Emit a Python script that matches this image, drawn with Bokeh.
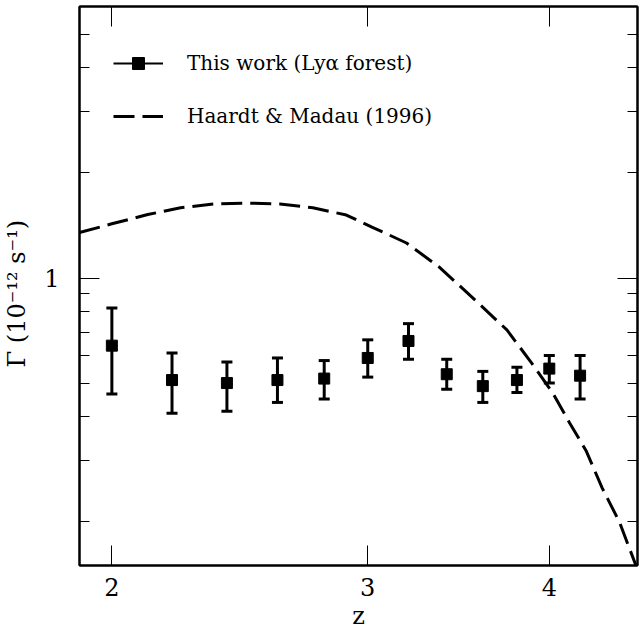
import numpy as np
from bokeh.plotting import figure
from bokeh.models import (ColumnDataSource, Whisker, TeeHead, FixedTicker, LogAxis,
                          Legend, LegendItem)
from bokeh.embed import file_html
from bokeh.resources import INLINE

# ---- data ----
z_obs = [2.0, 2.2, 2.4, 2.6, 2.8, 3.0, 3.2, 3.4, 3.6, 3.8, 4.0, 4.2]
gamma_obs = [0.64, 0.51, 0.50, 0.51, 0.515, 0.59, 0.66, 0.53, 0.49, 0.51, 0.55, 0.525]
gamma_hi = [0.82, 0.61, 0.575, 0.59, 0.58, 0.665, 0.74, 0.585, 0.54, 0.555, 0.60, 0.60]
gamma_lo = [0.465, 0.41, 0.415, 0.44, 0.45, 0.52, 0.585, 0.48, 0.44, 0.47, 0.50, 0.45]

z_hm = [1.9, 2.0, 2.117, 2.23, 2.35, 2.48, 2.61, 2.75, 2.90, 3.02, 3.19, 3.36,
        3.54, 3.74, 3.89, 4.02, 4.13, 4.24, 4.35, 4.47, 4.6]
gamma_hm = [1.35, 1.43, 1.52, 1.59, 1.63, 1.64, 1.63, 1.59, 1.515, 1.40, 1.26, 1.075,
            0.88, 0.71, 0.57, 0.47, 0.385, 0.32, 0.25, 0.20, 0.146]

x_ticks = [2, 3, 4]
y_ticks = [1]
y_minor = [0.2, 0.3, 0.4, 0.5, 0.6, 0.7, 0.8, 0.9, 2, 3, 4, 5]
x_range = (1.9, 4.6)
y_range = (0.15, 6.0)

label_leg1 = "This work (Ly\u03b1 forest)"
label_leg2 = "Haardt & Madau (1996)"
x_title = "z"
y_title = "\u0393  (10\u207b\u00b9\u00b2  s\u207b\u00b9)"

FONT = "DejaVu Serif"

p = figure(width=639, height=632, x_axis_type="log", y_axis_type="log",
           x_range=x_range, y_range=y_range, output_backend="svg",
           toolbar_location=None, min_border_left=79, min_border_right=2,
           min_border_top=6, min_border_bottom=66)
p.grid.visible = False
p.outline_line_color = "black"
p.outline_line_width = 2
p.background_fill_color = "white"
p.border_fill_color = "white"

src = ColumnDataSource(dict(z=z_obs, g=gamma_obs, hi=gamma_hi, lo=gamma_lo))

curve = p.line(z_hm, gamma_hm, line_color="black", line_width=3, line_dash="21 8")

wh = Whisker(source=src, base="z", upper="hi", lower="lo", dimension="height",
             line_color="black", line_width=3,
             upper_head=TeeHead(size=11, line_width=3, line_color="black"),
             lower_head=TeeHead(size=11, line_width=3, line_color="black"))
p.add_layout(wh)
pts = p.scatter("z", "g", source=src, marker="square", size=11,
                fill_color="black", line_color="black")

# one-point line: draws nothing in the plot, only provides the legend's solid line
leg_line = p.line(z_obs[:1], gamma_obs[:1], line_color="black", line_width=2)

legend = Legend(items=[LegendItem(label=label_leg1, renderers=[leg_line, pts]),
                       LegendItem(label=label_leg2, renderers=[curve])],
                location=(34, 434), glyph_width=50, glyph_height=30, label_height=30,
                spacing=23, padding=0, margin=0, label_standoff=24,
                label_text_font=FONT, label_text_font_size="20px",
                label_text_color="black",
                background_fill_alpha=0, border_line_color=None)
p.add_layout(legend)


def style(ax):
    ax.axis_line_width = 2
    ax.axis_line_color = "black"
    ax.major_tick_line_color = "black"
    ax.minor_tick_line_color = "black"
    ax.major_tick_in = 20
    ax.major_tick_out = 0
    ax.minor_tick_in = 10
    ax.minor_tick_out = 0
    ax.major_tick_line_width = 1
    ax.minor_tick_line_width = 1
    ax.major_label_text_font = FONT
    ax.major_label_text_font_size = "24px"
    ax.major_label_text_color = "black"
    ax.axis_label_text_font = FONT
    ax.axis_label_text_font_size = "24px"
    ax.axis_label_text_font_style = "normal"
    ax.axis_label_text_color = "black"


xt = FixedTicker(ticks=x_ticks, minor_ticks=[])
yt = FixedTicker(ticks=y_ticks, minor_ticks=y_minor)

xa = p.xaxis[0]
xa.ticker = xt
xa.major_label_overrides = {t: str(t) for t in x_ticks}
xa.axis_label = x_title
xa.major_label_standoff = 12
xa.axis_label_standoff = 3
style(xa)

ya = p.yaxis[0]
ya.ticker = yt
ya.major_label_overrides = {t: str(t) for t in y_ticks}
ya.axis_label = y_title
ya.major_label_standoff = 20
ya.axis_label_standoff = 10
ya.major_label_orientation = "horizontal"
style(ya)

top = LogAxis(ticker=FixedTicker(ticks=x_ticks, minor_ticks=[]))
style(top)
top.major_label_overrides = {t: "" for t in x_ticks}
top.major_label_standoff = 0
p.add_layout(top, "above")
right = LogAxis(ticker=FixedTicker(ticks=y_ticks, minor_ticks=y_minor))
style(right)
right.major_label_overrides = {t: "" for t in y_ticks}
right.major_label_standoff = 0
p.add_layout(right, "right")

open("out.html", "w").write(file_html(p, INLINE))
